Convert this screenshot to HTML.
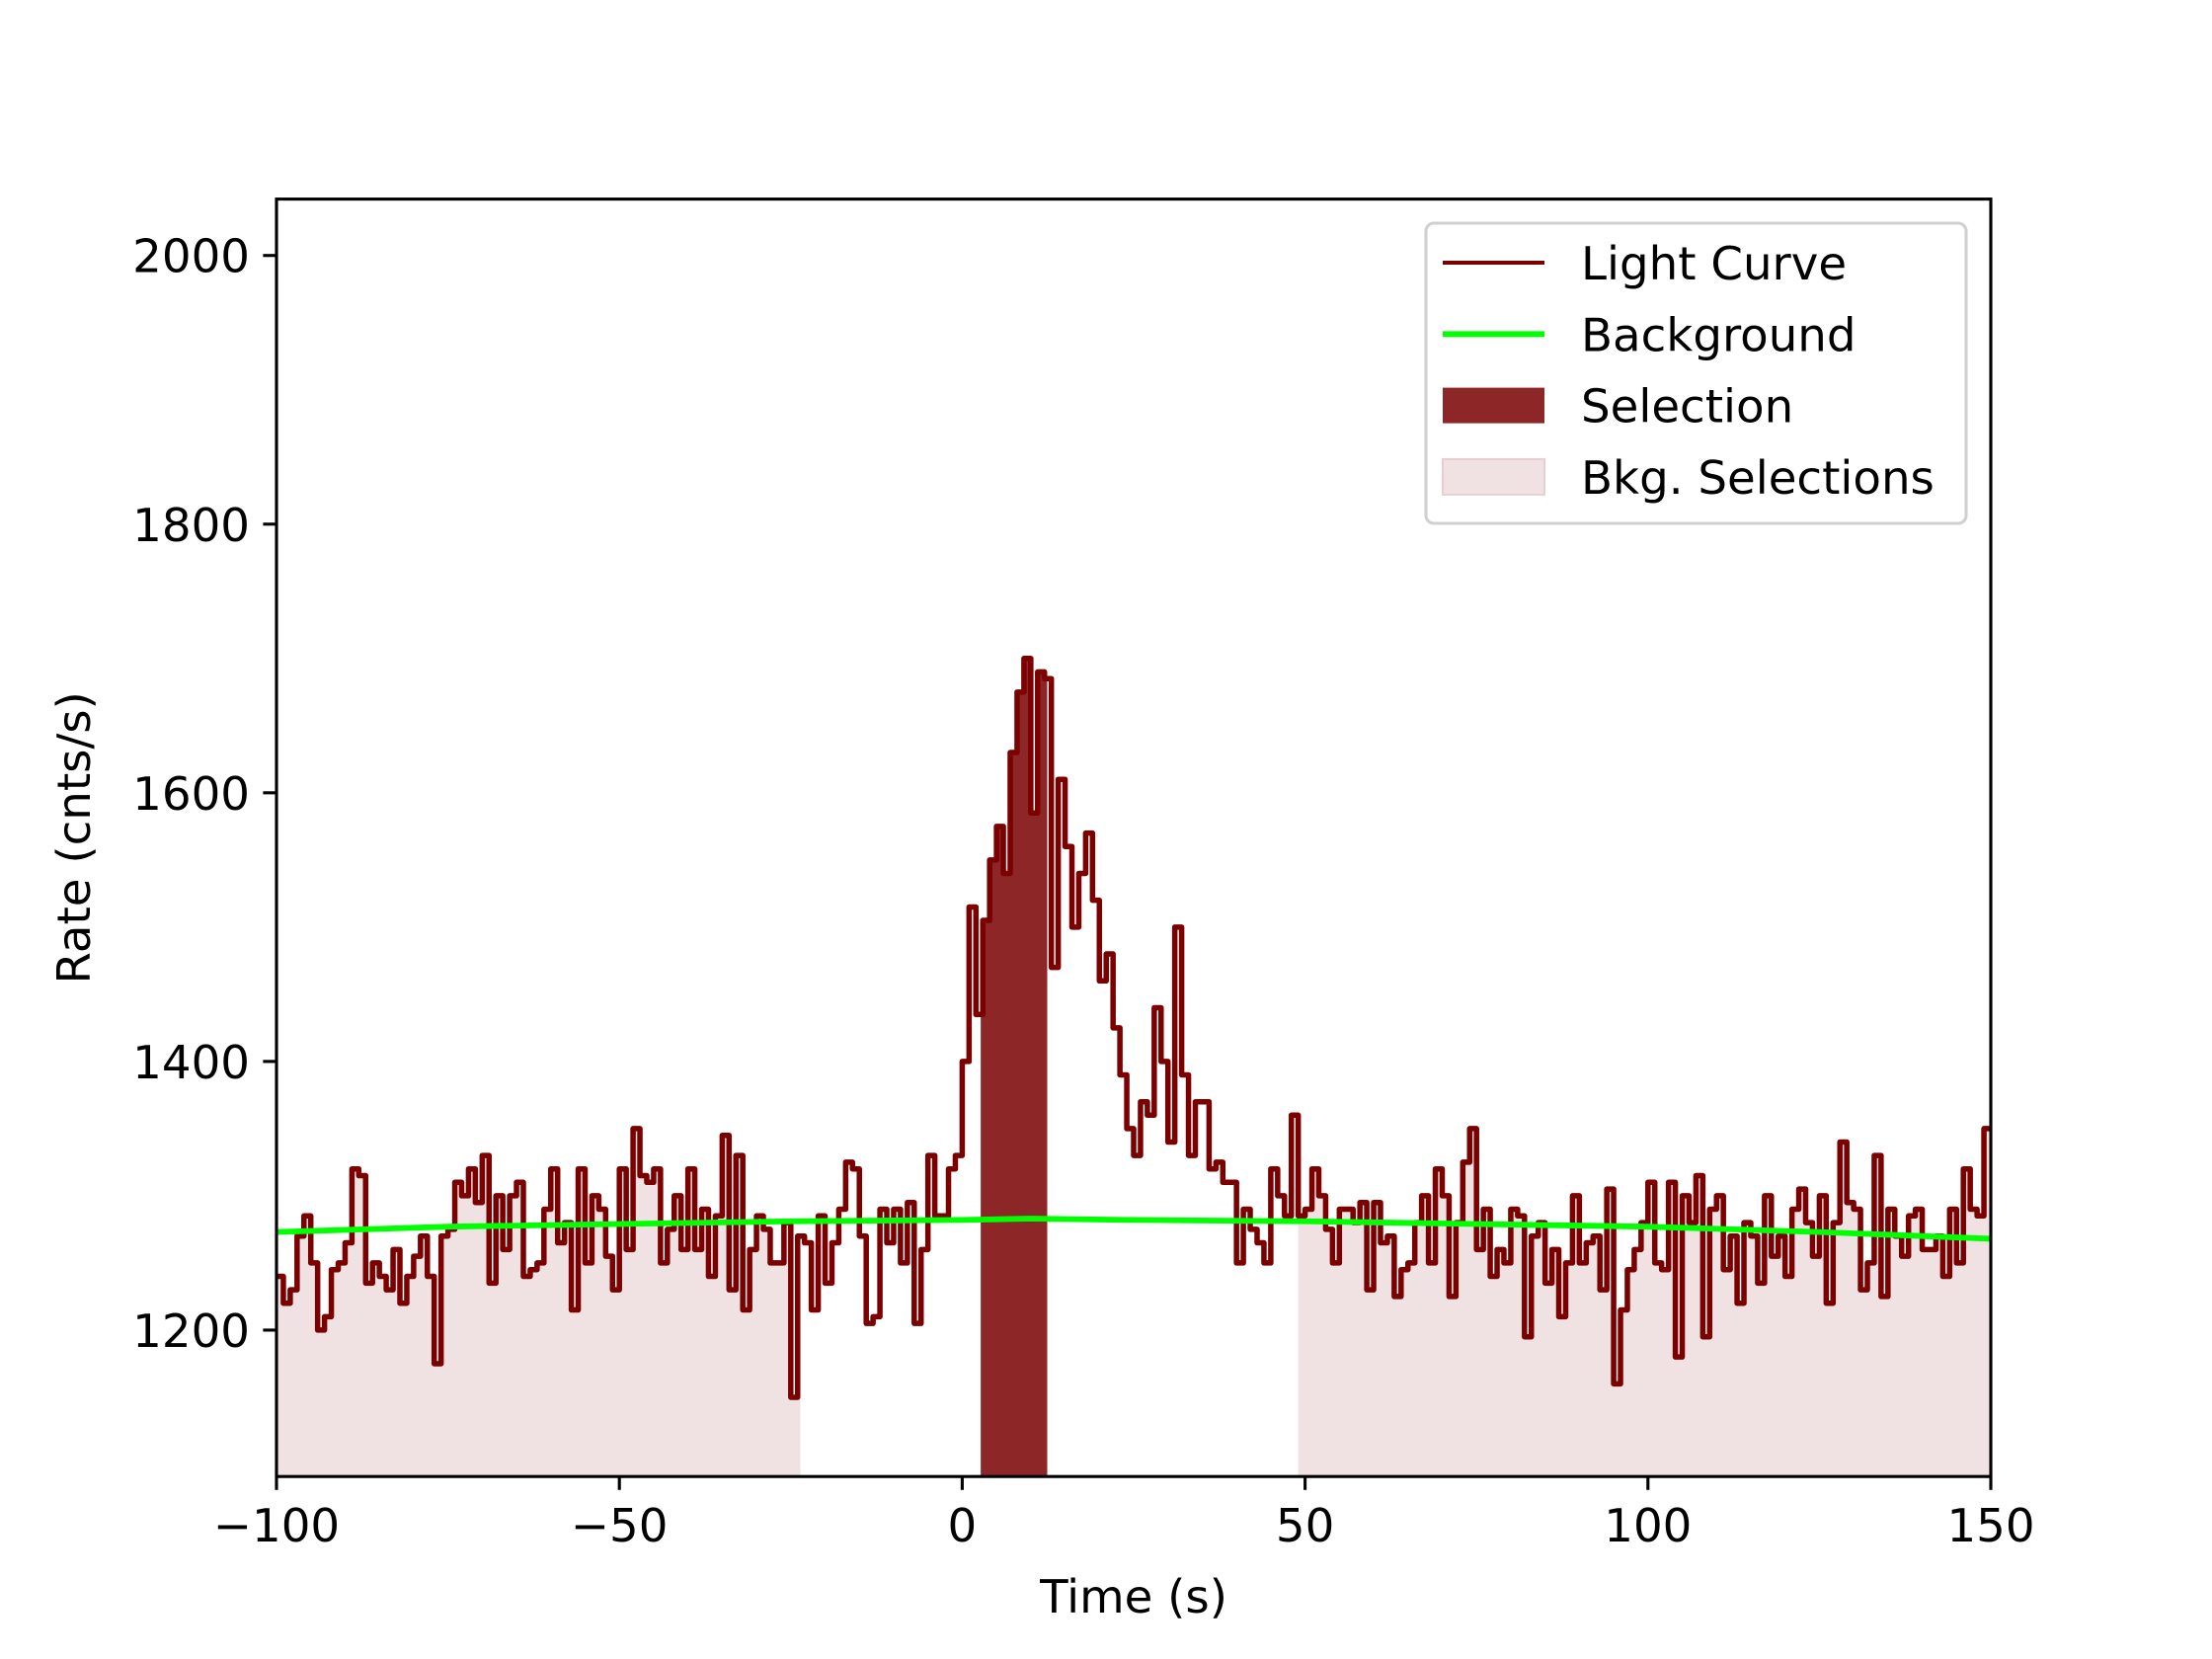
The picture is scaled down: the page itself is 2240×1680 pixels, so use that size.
<!DOCTYPE html>
<html><head><meta charset="utf-8"><style>
body{margin:0;background:#fff}
svg{display:block;font-family:"DejaVu Sans","Liberation Sans",sans-serif}
</style></head><body>
<svg id="chart" width="2240" height="1680" viewBox="0 0 2240 1680">
<rect width="2240" height="1680" fill="#fff"/>
<g id="fills"></g><g id="lines"></g><g id="axes"></g><g id="legend"></g>
</svg>
<script>
const binStart = -100;
const binWidth = 1;
const rates = [
1240,1220,1230,1270,1285,1250,1200,1210,1245,1250,
1265,1320,1315,1235,1250,1240,1230,1260,1220,1240,
1255,1270,1240,1175,1270,1275,1310,1300,1320,1295,
1330,1235,1300,1260,1300,1310,1240,1245,1250,1290,
1320,1265,1280,1215,1320,1250,1300,1290,1255,1230,
1320,1260,1350,1315,1310,1320,1250,1275,1300,1260,
1320,1260,1290,1240,1285,1345,1230,1330,1215,1260,
1285,1275,1250,1250,1280,1150,1270,1265,1215,1285,
1235,1265,1290,1325,1320,1270,1205,1210,1290,1265,
1290,1250,1295,1205,1260,1330,1285,1285,1320,1330,
1400,1515,1435,1505,1550,1575,1540,1630,1675,1700,
1585,1690,1685,1470,1610,1560,1500,1540,1570,1520,
1460,1480,1425,1390,1350,1330,1370,1360,1440,1400,
1340,1500,1390,1330,1370,1370,1320,1325,1310,1310,
1250,1290,1275,1265,1250,1320,1300,1285,1360,1285,
1290,1320,1300,1275,1250,1290,1290,1280,1295,1230,
1295,1265,1270,1225,1245,1250,1280,1300,1250,1320,
1300,1225,1280,1325,1350,1260,1290,1240,1260,1250,
1290,1285,1195,1270,1280,1235,1260,1210,1250,1300,
1250,1265,1270,1230,1305,1160,1215,1245,1260,1280,
1310,1250,1245,1310,1180,1300,1280,1315,1195,1290,
1300,1245,1270,1220,1280,1270,1235,1300,1255,1270,
1240,1290,1305,1280,1255,1300,1220,1280,1340,1295,
1290,1230,1250,1330,1225,1290,1270,1255,1285,1290,
1260,1260,1270,1240,1290,1250,1320,1290,1285,1350];
const bkgTimes = [-100,-75,-50,-25,0,10,25,50,75,100,125,150];
const bkgRates = [1273,1277,1279,1281,1282,1283,1282,1281,1279,1277,1273,1268];
const selection = [2.7, 12.4];
const bkgSelections = [[-100,-23.6],[49,150]];
const xTicks = [-100,-50,0,50,100,150];
const yTicks = [1200,1400,1600,1800,2000];

const NS="http://www.w3.org/2000/svg";
const L=280,R=2016,T=201.6,B=1495.2,xMin=-100,xMax=150,yMin=1091,yMax=2042;
const xs=t=>L+(t-xMin)/(xMax-xMin)*(R-L);
const ys=v=>B-(v-yMin)/(yMax-yMin)*(B-T);
function mk(tag,attrs,parent){const e=document.createElementNS(NS,tag);for(const k in attrs)e.setAttribute(k,attrs[k]);parent.appendChild(e);return e;}
const fills=document.getElementById('fills'),lines=document.getElementById('lines'),axes=document.getElementById('axes'),leg=document.getElementById('legend');

function fillRange(a,b,color,name){
  let d='';
  rates.forEach((v,i)=>{
    const t0=binStart+i*binWidth,t1=t0+binWidth;
    const s=Math.max(t0,a),e=Math.min(t1,b);
    if(e<=s)return;
    d+=`M${xs(s)},${B}V${ys(v)}H${xs(e)}V${B}Z`;
  });
  const p=mk('path',{d:d,fill:color},fills);
  
  
}
bkgSelections.forEach((r,i)=>fillRange(r[0],r[1],'#f0e2e3','bkg-selection-'+(i+1)));
fillRange(selection[0],selection[1],'#8d2727','selection-region');

let d='';
rates.forEach((v,i)=>{const t0=binStart+i*binWidth,t1=t0+binWidth;d+=(i?'L':'M')+xs(t0)+','+ys(v)+'H'+xs(t1);});
const lc=mk('path',{d:d,fill:'none',stroke:'#7b0000','stroke-width':5.5,'stroke-linejoin':'round'},lines);


const bg=mk('polyline',{points:bkgTimes.map((t,i)=>xs(t)+','+ys(bkgRates[i])).join(' '),fill:'none',stroke:'#00ff00','stroke-width':5.8},lines);



const frame=mk('rect',{x:L,y:T,width:R-L,height:B-T,fill:'none',stroke:'#000','stroke-width':3.1},axes);


xTicks.forEach(t=>{
  mk('line',{x1:xs(t),x2:xs(t),y1:B,y2:B+13.6,stroke:'#000','stroke-width':3.1},axes);
  const tx=mk('text',{x:xs(t),y:B+66,'text-anchor':'middle','font-size':46.7},axes);
  tx.textContent=String(t).replace('-','\u2212');
  
  
});
yTicks.forEach(v=>{
  mk('line',{x1:L,x2:L-13.6,y1:ys(v),y2:ys(v),stroke:'#000','stroke-width':3.1},axes);
  const tx=mk('text',{x:L-27,y:ys(v)+17,'text-anchor':'end','font-size':46.7},axes);
  tx.textContent=v;
  
  
});
const xl=mk('text',{x:(L+R)/2,y:1633,'text-anchor':'middle','font-size':46.7},axes);
xl.textContent='Time (s)';


const yl=mk('text',{x:0,y:0,'text-anchor':'middle','font-size':46.7,transform:`translate(91,${(T+B)/2}) rotate(-90)`},axes);
yl.textContent='Rate (cnts/s)';



const lb=mk('rect',{x:1444,y:226,width:547,height:304,rx:8,fill:'#fff','fill-opacity':0.8,stroke:'#d0d0d0','stroke-width':3.1},leg);


const items=[['Light Curve','line','#7b0000',4],['Background','line','#00ff00',5.8],['Selection','rect','#8d2727'],['Bkg. Selections','rect','#f0e2e3']];
items.forEach((it,i)=>{
  const y=266+i*72.3;
  const g=mk('g',{},leg);
  
  
  if(it[1]==='line')mk('line',{x1:1461,x2:1564,y1:y,y2:y,stroke:it[2],'stroke-width':it[3]},g);
  else mk('rect',{x:1461,y:y-18,width:103,height:36,fill:it[2],stroke:it[2]==='#f0e2e3'?'#e6cfd1':'none','stroke-width':2},g);
  const t=mk('text',{x:1601,y:y+17,'font-size':46.7},g);
  t.textContent=it[0];
});
</script>
</body></html>
